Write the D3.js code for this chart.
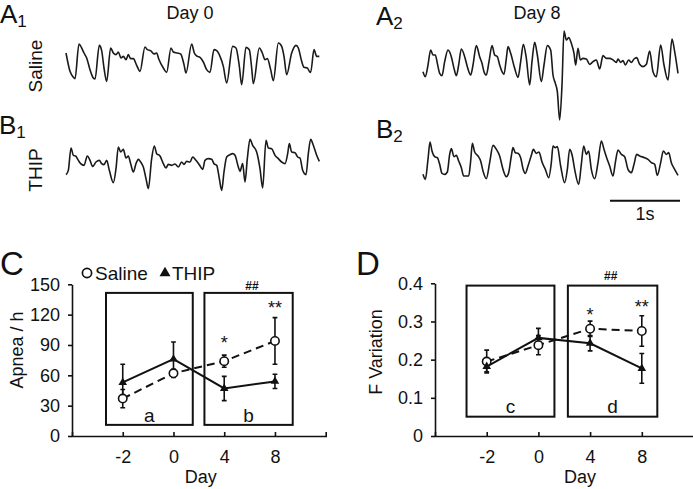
<!DOCTYPE html>
<html><head><meta charset="utf-8">
<script src="https://cdn.jsdelivr.net/npm/d3@7"></script>
<style>
body{margin:0;background:#fff}
text{font-family:"Liberation Sans",Arial,sans-serif;fill:#111}
</style>
</head><body>
<svg id="fig" width="693" height="489" xmlns="http://www.w3.org/2000/svg"></svg>
<script>
// ---------- data ----------
const days = ["-2", "0", "4", "8"];
const apneaSaline = [37, 62, 74, 94];
const apneaSalineErr = [9, 4, 6, 23];
const apneaThip = [53, 76, 47, 54];
const apneaThipErr = [18, 17, 12, 7];
const apneaTicks = [0, 30, 60, 90, 120, 150];
const fvarSaline = [0.195, 0.238, 0.281, 0.275];
const fvarSalineErr = [0.03, 0.025, 0.02, 0.04];
const fvarThip = [0.182, 0.257, 0.243, 0.177];
const fvarThipErr = [0.014, 0.025, 0.02, 0.039];
const fvarTicks = [0, 0.1, 0.2, 0.3, 0.4];
const seriesNames = ["Saline", "THIP"];

// breathing traces: [sample index @210 Hz, signal (a.u.)]
const traceA1 = [[18,-45],[30,-100],[40,-118],[45,-122],[57,-18],[65,-30],[72,-45],[80,-60],[90,-95],[100,-120],[105,-123],[118,-22],[125,-38],[132,-90],[140,-130],[152,-30],[160,-45],[168,-50],[175,-42],[183,-60],[190,-55],[198,-65],[205,-50],[212,-62],[220,-62],[230,-82],[240,-100],[255,-27],[262,-35],[272,-38],[282,-48],[290,-45],[296,-62],[310,-90],[320,-103],[333,-30],[340,-42],[352,-45],[362,-48],[372,-80],[378,-105],[395,-18],[403,-45],[412,-55],[420,-58],[430,-72],[440,-95],[450,-103],[462,-35],[470,-38],[480,-55],[490,-85],[500,-135],[518,-25],[528,-30],[538,-85],[545,-140],[558,-28],[568,-35],[575,-90],[580,-137],[598,-30],[607,-45],[615,-65],[622,-62],[632,-95],[640,-128],[655,-15],[665,-25],[672,-55],[680,-110],[695,-45],[708,-22],[715,-30],[725,-70],[732,-88],[742,-90],[748,-100],[752,-103],[762,-35],[770,-55],[778,-55]];
const traceA2 = [[15,-140],[22,-155],[30,-120],[38,-75],[45,-90],[52,-90],[58,-115],[65,-145],[72,-152],[80,-110],[90,-75],[100,-95],[108,-130],[115,-152],[122,-120],[130,-72],[140,-95],[148,-125],[158,-150],[165,-120],[175,-62],[185,-95],[192,-115],[198,-140],[205,-150],[213,-110],[222,-62],[230,-90],[238,-95],[245,-120],[252,-140],[258,-148],[265,-100],[270,-65],[278,-85],[290,-130],[300,-157],[308,-110],[316,-58],[325,-100],[335,-180],[342,-110],[350,-52],[358,-90],[370,-170],[378,-120],[388,-62],[398,-75],[405,-150],[412,-175],[418,-200],[425,-285],[432,-180],[438,-18],[445,-45],[452,-38],[460,-55],[468,-85],[473,-120],[480,-70],[487,-105],[495,-100],[505,-102],[515,-118],[525,-110],[535,-105],[545,-132],[555,-92],[565,-100],[575,-100],[585,-105],[595,-112],[600,-102],[608,-112],[615,-107],[622,-120],[632,-105],[640,-112],[648,-102],[656,-98],[665,-118],[675,-125],[685,-118],[695,-78],[705,-140],[715,-155],[728,-60],[738,-120],[750,-165],[762,-42],[770,-80],[780,-145]];
const traceB1 = [[18,-128],[25,-115],[33,-48],[40,-70],[47,-72],[55,-85],[62,-95],[72,-100],[82,-72],[90,-85],[98,-103],[108,-90],[118,-85],[125,-95],[132,-98],[140,-85],[148,-115],[160,-152],[168,-110],[175,-45],[182,-60],[190,-52],[198,-78],[205,-72],[212,-95],[220,-120],[228,-95],[235,-82],[242,-90],[250,-105],[258,-140],[265,-170],[275,-80],[283,-42],[290,-65],[300,-72],[310,-95],[318,-108],[325,-97],[335,-100],[345,-96],[355,-105],[365,-90],[372,-97],[380,-88],[390,-90],[398,-75],[408,-85],[418,-98],[428,-112],[435,-85],[445,-80],[455,-82],[462,-95],[470,-100],[478,-140],[485,-175],[492,-120],[500,-75],[510,-68],[518,-65],[525,-70],[535,-105],[540,-118],[548,-95],[555,-150],[562,-80],[570,-22],[578,-40],[590,-60],[600,-110],[608,-168],[618,-25],[625,-48],[635,-50],[645,-70],[655,-80],[665,-90],[675,-95],[683,-65],[688,-35],[695,-60],[705,-62],[713,-75],[720,-78],[728,-115],[738,-128],[745,-65],[752,-22],[760,-40],[770,-70],[778,-88]];
const traceB2 = [[15,-115],[22,-130],[30,-70],[36,-18],[42,-45],[50,-62],[58,-65],[65,-85],[72,-112],[80,-115],[88,-108],[95,-55],[100,-38],[108,-62],[115,-58],[122,-75],[130,-95],[137,-120],[145,-120],[152,-120],[158,-75],[163,-22],[170,-48],[180,-60],[188,-75],[195,-105],[205,-128],[215,-80],[225,-28],[235,-40],[245,-60],[255,-100],[265,-122],[272,-110],[280,-60],[285,-35],[292,-50],[300,-52],[308,-65],[315,-98],[322,-112],[330,-90],[340,-58],[346,-40],[355,-52],[363,-48],[372,-78],[382,-100],[392,-125],[400,-80],[405,-30],[412,-35],[418,-32],[428,-90],[440,-140],[448,-100],[455,-40],[463,-60],[470,-100],[482,-145],[490,-85],[497,-30],[505,-55],[512,-45],[520,-100],[530,-128],[540,-80],[550,-15],[558,-40],[566,-65],[575,-90],[585,-120],[592,-80],[600,-42],[610,-55],[620,-62],[630,-100],[640,-110],[648,-85],[656,-55],[665,-60],[680,-65],[690,-70],[700,-80],[710,-85],[718,-118],[728,-80],[736,-45],[745,-55],[752,-50],[760,-80],[770,-100],[780,-118]];
const sampleRate = 210;      // samples per second
const scaleBarStart = 576;   // sample index in B2 where the 1 s bar starts

// ---------- drawing ----------
const svg = d3.select("#fig");
svg.append("rect").attr("width",693).attr("height",489).attr("fill","#fff");
const INK = "#111";

function txt(x, y, s, size, opts = {}) {
  const t = svg.append("text").attr("x", x).attr("y", y).attr("font-size", size).text(s);
  if (opts.anchor) t.attr("text-anchor", opts.anchor);
  if (opts.rot) t.attr("transform", `rotate(-90,${x},${y})`);
  if (opts.weight) t.attr("font-weight", opts.weight);
  return t;
}
function label(x, y, letter, sub) {
  const t = svg.append("text").attr("x", x).attr("y", y).attr("font-size", 26);
  t.append("tspan").text(letter);
  if (sub) t.append("tspan").attr("font-size", 17).attr("dy", 4).text(sub);
}

function trace(data, x0, y0, H) {
  const x = d3.scaleLinear().domain([0, 795]).range([x0, x0 + 265]);
  const y = d3.scaleLinear().domain([-H, 0]).range([y0 + H / 3, y0]);
  svg.append("path")
    .attr("d", d3.line().x(d => x(d[0])).y(d => y(d[1])).curve(d3.curveMonotoneX)(data))
    .attr("fill", "none").attr("stroke", "#1a1a1a").attr("stroke-width", 1.6)
    .attr("stroke-linejoin", "round");
  return x;
}

trace(traceA1, 60, 38, 156);
trace(traceA2, 418, 25, 300);
trace(traceB1, 60, 132, 192);
const xB2 = trace(traceB2, 418, 136, 162);

// scale bar
svg.append("line").attr("x1", xB2(scaleBarStart)).attr("x2", xB2(scaleBarStart + sampleRate))
  .attr("y1", 200.7).attr("y2", 200.7).attr("stroke", INK).attr("stroke-width", 2);
txt((xB2(scaleBarStart) + xB2(scaleBarStart + sampleRate)) / 2, 220, "1s", 18, {anchor: "middle"});

label(0, 23, "A", "1");
label(376, 25, "A", "2");
label(-1, 134, "B", "1");
label(376, 138, "B", "2");
txt(190, 19, "Day 0", 18, {anchor: "middle"});
txt(537, 19, "Day 8", 18, {anchor: "middle"});
txt(41.5, 66, "Saline", 19, {anchor: "middle", rot: true});
txt(41.5, 170, "THIP", 19, {anchor: "middle", rot: true});

function panel(o) {
  const x = d3.scalePoint().domain(days).range([o.x0, o.x1]).padding(1);
  const y = d3.scaleLinear().domain([0, o.ymax]).range([436, o.ytop]);
  const g = svg.append("g");
  const step = x.step();

  // boxes
  o.boxes.forEach(b => {
    const xl = x(b.from) + b.l * step, xr = x(b.to) + b.r * step;
    g.append("rect").attr("x", xl).attr("y", y(o.boxTop)).attr("width", xr - xl)
      .attr("height", y(o.boxBottom) - y(o.boxTop))
      .attr("fill", "none").attr("stroke", INK).attr("stroke-width", 2);
    g.append("text").attr("x", (xl + xr) / 2).attr("y", b.ly).attr("text-anchor", "middle")
      .attr("font-size", 19).text(b.name);
  });

  // axes
  const xa = g.append("g").attr("transform", "translate(0,436)")
    .call(d3.axisBottom(x).tickSizeInner(-4).tickSizeOuter(-4).tickPadding(14));
  const ya = g.append("g").attr("transform", `translate(${o.x0},0)`)
    .call(d3.axisLeft(y).tickValues(o.ticks).tickSizeInner(4).tickSizeOuter(0).tickPadding(8).tickFormat(o.fmt));
  [xa, ya].forEach(a => {
    a.selectAll("path,line").attr("stroke", INK).attr("stroke-width", 1.6);
    a.selectAll("text").attr("font-size", 18).attr("fill", INK)
      .attr("font-family", '"Liberation Sans",Arial,sans-serif');
  });

  // error bars
  const cap = 2.4;
  [[o.s, o.se], [o.t, o.te]].forEach(([v, e]) => {
    days.forEach((d, i) => {
      const cx = x(d), t = y(v[i] + e[i]), b = y(v[i] - e[i]);
      g.append("path").attr("d", `M${cx},${t}V${b}M${cx - cap},${t}H${cx + cap}M${cx - cap},${b}H${cx + cap}`)
        .attr("stroke", INK).attr("stroke-width", 1.6).attr("fill", "none");
    });
  });

  const line = d3.line().x((d, i) => x(days[i])).y(d => y(d));
  g.append("path").attr("d", line(o.s)).attr("fill", "none").attr("stroke", INK)
    .attr("stroke-width", 2).attr("stroke-dasharray", "8,5");
  g.append("path").attr("d", line(o.t)).attr("fill", "none").attr("stroke", INK)
    .attr("stroke-width", 2);

  days.forEach((d, i) => {
    g.append("circle").attr("cx", x(d)).attr("cy", y(o.s[i])).attr("r", 4.2)
      .attr("fill", "#fff").attr("stroke", INK).attr("stroke-width", 1.6);
    g.append("path").attr("d", d3.symbol(d3.symbolTriangle, 32)())
      .attr("transform", `translate(${x(d)},${y(o.t[i])})`).attr("fill", INK);
  });

  // significance
  o.marks.forEach(m => {
    g.append("text").attr("x", x(m.day) + (m.dx || 0)).attr("y", m.y).attr("text-anchor", "middle")
      .attr("font-size", m.size).attr("font-weight", m.weight || "normal").text(m.s);
  });

  // titles
  txt(o.ytx, o.yty, o.ytitle, 18, {anchor: "middle", rot: true});
  txt((o.x0 + Math.min(o.x1, 693)) / 2 + o.dayDx, 483, "Day", 18, {anchor: "middle"});
  return {x, y};
}

panel({
  x0: 72, x1: 325.7, ymax: 150, ytop: 284.3, ticks: apneaTicks, fmt: d3.format("d"),
  s: apneaSaline, se: apneaSalineErr, t: apneaThip, te: apneaThipErr,
  boxTop: 141.5, boxBottom: 11,
  boxes: [{from: "-2", to: "0", l: -0.33, r: 0.38, name: "a", ly: 422},
          {from: "4", to: "8", l: -0.39, r: 0.35, name: "b", ly: 422}],
  marks: [{day: "4", y: 349, s: "*", size: 18}, {day: "8", y: 314, s: "**", size: 18},
          {day: "8", dx: -23, y: 290, s: "##", size: 12, weight: "bold"}],
  ytitle: "Apnea / h", ytx: 23, yty: 350, dayDx: 2
});
panel({
  x0: 435, x1: 693.5, ymax: 0.4, ytop: 283.3, ticks: fvarTicks,
  fmt: d => d === 0 ? "0" : d3.format(".1f")(d),
  s: fvarSaline, se: fvarSalineErr, t: fvarThip, te: fvarThipErr,
  boxTop: 0.394, boxBottom: 0.0506,
  boxes: [{from: "-2", to: "0", l: -0.39, r: 0.31, name: "c", ly: 413},
          {from: "4", to: "8", l: -0.43, r: 0.30, name: "d", ly: 413}],
  marks: [{day: "4", y: 321, s: "*", size: 18}, {day: "8", y: 313, s: "**", size: 18},
          {day: "8", dx: -31, y: 280, s: "##", size: 12, weight: "bold"}],
  ytitle: "F Variation", ytx: 382, yty: 352, dayDx: 16
});

// panel letters
txt(0, 275, "C", 33);
txt(356, 275, "D", 33);

// legend
svg.append("circle").attr("cx", 87).attr("cy", 273).attr("r", 4.6)
  .attr("fill", "#fff").attr("stroke", INK).attr("stroke-width", 1.7);
txt(95, 279.5, seriesNames[0], 19);
svg.append("path").attr("d", d3.symbol(d3.symbolTriangle, 52)())
  .attr("transform", "translate(165,273)").attr("fill", INK);
txt(172, 279.5, seriesNames[1], 19);
</script>
</body></html>
